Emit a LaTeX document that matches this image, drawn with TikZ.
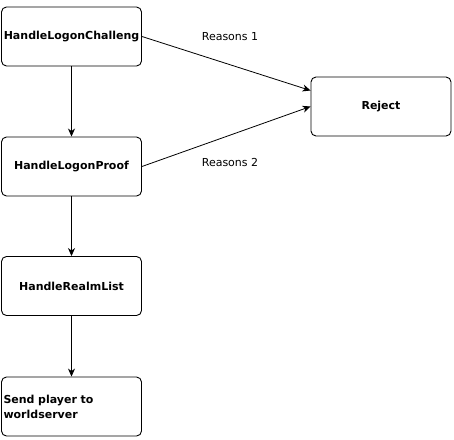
\documentclass[tikz,border=0pt]{standalone}
\usepackage{fontspec}
\setmainfont{DejaVu Sans}
\usetikzlibrary{arrows.meta,calc}
\begin{document}
\begin{tikzpicture}[x=1pt,y=1pt,
  box/.style={draw,line width=0.9pt,rounded corners=5pt,minimum width=140pt,minimum height=59pt,inner sep=2pt,font=\fontsize{11}{15}\selectfont\bfseries},
  conn/.style={line width=0.8pt,-{Stealth[length=8pt,width=7pt,inset=2.5pt]}},
  lbl/.style={font=\fontsize{11}{13}\selectfont}]
\useasboundingbox[fill=white] (0,0) rectangle (454,-439);
\node[box] (chal) at (71.5,-36.5) {HandleLogonChalleng};
\node[box] (proof) at (71.5,-166.5) {HandleLogonProof};
\node[box] (realm) at (71.5,-286) {HandleRealmList};
\node[box,text width=136pt,align=left] (send) at (71.5,-406.5) {Send player to\\worldserver};
\node[box] (rej) at (381,-106.5) {Reject};
\coordinate (rejin) at ($(rej.west)+(0,16)$);
\draw[conn] (chal) -- (proof);
\draw[conn] (proof) -- (realm);
\draw[conn] (realm) -- (send);
\draw[conn] (chal.east) -- (rejin);
\draw[conn] (proof.east) -- (rej.west);
\node[lbl] (r1) at (230,-36.5) {Reasons 1};
\node[lbl] (r2) at (230,-162.5) {Reasons 2};
\end{tikzpicture}
\end{document}
